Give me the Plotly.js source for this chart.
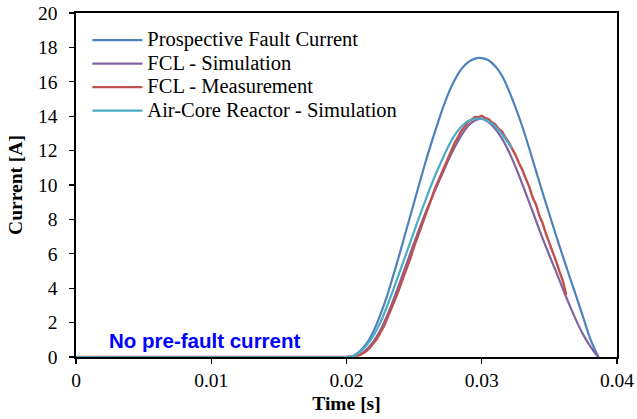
<!DOCTYPE html>
<html>
<head>
<meta charset="utf-8">
<script src="https://cdn.plot.ly/plotly-3.0.1.min.js"></script>
<style>html,body{margin:0;padding:0;background:#fff}#chart{width:637px;height:419px}</style>
</head>
<body>
<div id="chart"></div>
<script>
// ---- data ----
var seriesNames = ["Prospective Fault Current", "FCL - Simulation", "FCL - Measurement", "Air-Core Reactor - Simulation"];

var tProspective = [0, 0.0200, 0.0205, 0.0210, 0.0215, 0.0220, 0.0225, 0.0230, 0.0235, 0.0240, 0.0245, 0.0250, 0.0255, 0.0260, 0.0265, 0.0270, 0.0275, 0.0280, 0.0285, 0.0290, 0.0295, 0.0300, 0.0305, 0.0310, 0.0315, 0.0320, 0.0325, 0.0330, 0.0335, 0.0340, 0.0345, 0.0350, 0.0355, 0.0360, 0.0365, 0.0370, 0.0375, 0.0380, 0.0385, 0.0390];
var iProspective = [0, 0, 0.07, 0.35, 0.8, 1.5, 2.45, 3.55, 4.85, 6.2, 7.6, 9.0, 10.4, 11.75, 13.0, 14.2, 15.25, 16.1, 16.75, 17.15, 17.35, 17.38, 17.25, 16.9, 16.35, 15.5, 14.5, 13.4, 12.15, 10.85, 9.55, 8.3, 7.05, 5.85, 4.65, 3.5, 2.3, 1.1, 0.2, -0.6];

var tFclSim = [0, 0.0200, 0.0205, 0.0210, 0.0215, 0.0220, 0.0225, 0.0230, 0.0235, 0.0240, 0.0245, 0.0250, 0.0255, 0.0260, 0.0265, 0.0270, 0.0275, 0.0280, 0.0285, 0.0290, 0.0295, 0.0300, 0.0305, 0.0310, 0.0315, 0.0320, 0.0325, 0.0330, 0.0335, 0.0340, 0.0345, 0.0350, 0.0355, 0.0360, 0.0365, 0.0370, 0.0375, 0.0380, 0.0385, 0.0390];
var iFclSim = [0, 0, 0.02, 0.15, 0.45, 0.9, 1.55, 2.4, 3.4, 4.45, 5.55, 6.65, 7.7, 8.7, 9.6, 10.5, 11.4, 12.2, 12.9, 13.45, 13.75, 13.85, 13.65, 13.25, 12.7, 11.95, 11.05, 10.05, 9.0, 7.95, 6.9, 5.9, 4.95, 3.95, 3.0, 2.1, 1.3, 0.65, 0.1, -0.4];

var tFclMeas = [0, 0.02000, 0.02025, 0.02050, 0.02075, 0.02100, 0.02125, 0.02150, 0.02175, 0.02200, 0.02225, 0.02250, 0.02275, 0.02300, 0.02325, 0.02350, 0.02375, 0.02400, 0.02425, 0.02450, 0.02475, 0.02500, 0.02525, 0.02550, 0.02575, 0.02600, 0.02625, 0.02650, 0.02675, 0.02700, 0.02725, 0.02750, 0.02775, 0.02800, 0.02825, 0.02850, 0.02875, 0.02900, 0.02925, 0.02950, 0.02975, 0.03000, 0.03025, 0.03050, 0.03075, 0.03100, 0.03125, 0.03150, 0.03175, 0.03200, 0.03225, 0.03250, 0.03275, 0.03300, 0.03325, 0.03350, 0.03375, 0.03400, 0.03425, 0.03450, 0.03475, 0.03500, 0.03525, 0.03550, 0.03575, 0.03600, 0.03625];
var iFclMeas = [0, 0.00, 0.03, 0.01, 0.09, 0.12, 0.24, 0.36, 0.55, 0.80, 1.05, 1.40, 1.76, 2.22, 2.66, 3.18, 3.64, 4.20, 4.70, 5.28, 5.80, 6.42, 6.94, 7.52, 8.04, 8.62, 9.14, 9.72, 10.18, 10.70, 11.14, 11.62, 12.02, 12.46, 12.80, 13.16, 13.40, 13.68, 13.80, 13.96, 13.94, 14.02, 13.90, 13.84, 13.64, 13.52, 13.26, 13.12, 12.76, 12.48, 12.10, 11.74, 11.28, 10.88, 10.38, 9.92, 9.30, 8.88, 8.24, 7.78, 7.16, 6.66, 6.08, 5.56, 4.96, 4.42, 3.60];

var tAirCore = [0, 0.0200, 0.0205, 0.0210, 0.0215, 0.0220, 0.0225, 0.0230, 0.0235, 0.0240, 0.0245, 0.0250, 0.0255, 0.0260, 0.0265, 0.0270, 0.0275, 0.0280, 0.0285, 0.0290, 0.0295, 0.0300, 0.0305, 0.0310, 0.0315, 0.0320, 0.0322];
var iAirCore = [0, 0, 0.05, 0.3, 0.7, 1.25, 2.0, 2.95, 4.0, 5.1, 6.2, 7.3, 8.4, 9.45, 10.45, 11.35, 12.2, 12.9, 13.4, 13.72, 13.85, 13.85, 13.7, 13.4, 12.95, 12.4, 12.15];

var xTickVals = [0, 0.01, 0.02, 0.03, 0.04];
var xTickText = ["0", "0.01", "0.02", "0.03", "0.04"];
var yTickVals = [0, 2, 4, 6, 8, 10, 12, 14, 16, 18, 20];

var colors = ["#4F81BD", "#8064A2", "#C0504D", "#4BACC6"];

// ---- traces ----
function legendLabel(s) { return '<span style="font-size:20.5px">' + s + '</span>'; }
function mk(x, y, name, color, width, shape) {
  return {x: x, y: y, name: legendLabel(name), type: "scatter", mode: "lines",
          line: {color: color, width: width, shape: shape, smoothing: 0.6}};
}
var traces = [
  mk(tProspective, iProspective, seriesNames[0], colors[0], 2.2, "spline"),
  mk(tFclSim, iFclSim, seriesNames[1], colors[1], 2.2, "spline"),
  mk(tFclMeas, iFclMeas, seriesNames[2], colors[2], 2.4, "linear"),
  mk(tAirCore, iAirCore, seriesNames[3], colors[3], 2.2, "spline")
];

var serif = '"Liberation Serif", "Times New Roman", serif';
var tickFamily = "Liberation Serif";
var layout = {
  width: 637, height: 419,
  margin: {l: 76, r: 20, t: 13, b: 62},
  paper_bgcolor: "#fff", plot_bgcolor: "#fff",
  font: {family: serif, color: "#000", size: 19},
  showlegend: true,
  hovermode: false,
  legend: {x: 0.021, y: 0.97, xanchor: "left", yanchor: "top",
           bgcolor: "rgba(0,0,0,0)", font: {family: serif, size: 15.8, color: "#000"},
           tracegroupgap: 0, itemwidth: 50},
  xaxis: {
    range: [0, 0.04], tickvals: xTickVals, ticktext: xTickText,
    ticks: "outside", ticklen: 5, tickwidth: 1.3, tickcolor: "#000",
    showline: true, linewidth: 1.6, linecolor: "#000", mirror: true,
    showgrid: false, zeroline: false,
    tickfont: {family: tickFamily, size: 19.5, color: "#000", weight: "normal"},
    title: {text: "<b>Time [s]</b>", font: {family: serif, size: 19.5, color: "#000"}, standoff: 6}
  },
  yaxis: {
    range: [0, 20], tickvals: yTickVals, ticktext: ["0", "2", "4", "6", "8", "10", "12", "14", "16", "18", "20"],
    ticks: "outside", ticklen: 5, tickwidth: 1.3, tickcolor: "#000",
    showline: true, linewidth: 1.6, linecolor: "#000", mirror: true,
    showgrid: false, zeroline: false, ticklabelstandoff: 8,
    tickfont: {family: tickFamily, size: 19.5, color: "#000", weight: "normal"},
    title: {text: "<b>Current [A]</b>", font: {family: serif, size: 19.5, color: "#000"}, standoff: 10}
  },
  annotations: [{
    xref: "paper", yref: "paper", x: 0.058, y: 0.049, xanchor: "left", yanchor: "middle",
    text: "<b>No pre-fault current</b>", showarrow: false,
    font: {family: '"Liberation Sans", Arial, sans-serif', size: 20.5, color: "#0000FF"}
  }]
};

Plotly.newPlot("chart", traces, layout, {displayModeBar: false, staticPlot: true});
</script>
</body>
</html>
